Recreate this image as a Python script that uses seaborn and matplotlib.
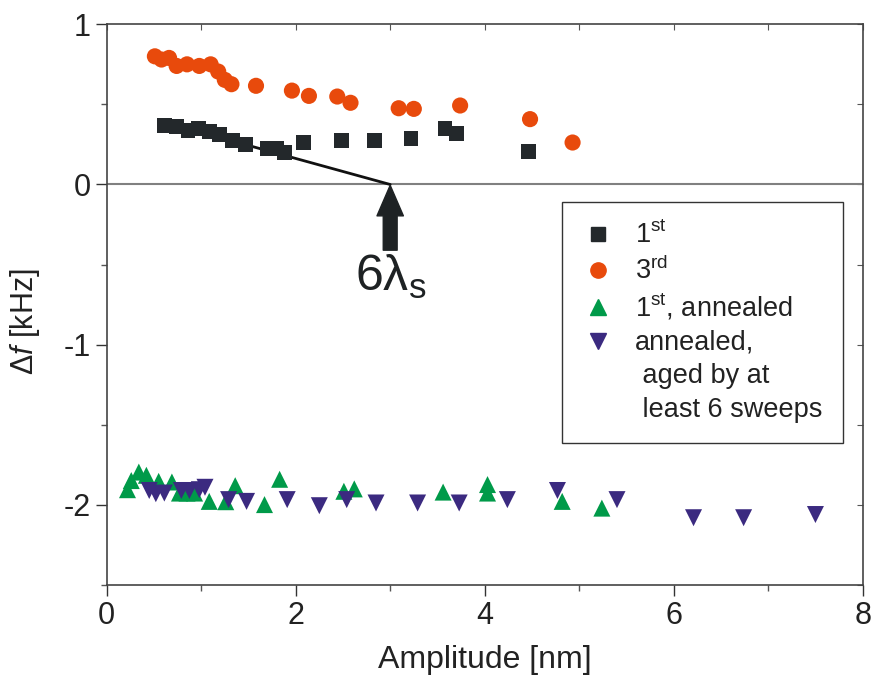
import numpy as np
import pandas as pd
import matplotlib
matplotlib.use("Agg")
import matplotlib.pyplot as plt
import seaborn as sns
from matplotlib.lines import Line2D
from matplotlib.ticker import MultipleLocator

sns.set_style("ticks")
plt.rcParams['font.family'] = ['Liberation Sans', 'DejaVu Sans']
plt.rcParams['mathtext.fontset'] = 'custom'
plt.rcParams['mathtext.rm'] = 'Liberation Sans'
plt.rcParams['mathtext.it'] = 'Liberation Sans:italic'
plt.rcParams['axes.unicode_minus'] = False

# 1st sweep (squares)
x_first = [0.61, 0.74, 0.86, 0.97, 1.085, 1.19, 1.33, 1.47, 1.70, 1.80, 1.88,
           2.08, 2.48, 2.83, 3.22, 3.58, 3.70, 4.46]
y_first = [0.368, 0.362, 0.335, 0.347, 0.331, 0.31, 0.274, 0.25, 0.227, 0.227, 0.20,
           0.264, 0.272, 0.272, 0.285, 0.347, 0.32, 0.206]

# 3rd sweep (circles)
x_third = [0.51, 0.58, 0.66, 0.74, 0.85, 0.98, 1.10, 1.18, 1.25, 1.32, 1.58,
           1.96, 2.14, 2.44, 2.58, 3.09, 3.25, 3.74, 4.48, 4.93]
y_third = [0.80, 0.78, 0.79, 0.74, 0.75, 0.74, 0.75, 0.705, 0.653, 0.626, 0.616,
           0.586, 0.553, 0.549, 0.51, 0.476, 0.472, 0.493, 0.408, 0.262]

# 1st, annealed (up triangles)
x_ann1 = [0.22, 0.26, 0.34, 0.42, 0.55, 0.69, 0.77, 0.85, 0.93, 1.085, 1.26, 1.36,
          1.67, 1.83, 2.51, 2.62, 3.56, 4.03, 4.03, 4.82, 5.24]
y_ann1 = [-1.905, -1.848, -1.795, -1.815, -1.853, -1.857, -1.926, -1.926, -1.926,
          -1.978, -1.98, -1.88, -1.998, -1.84, -1.915, -1.90, -1.92, -1.873, -1.926,
          -1.978, -2.02]

# annealed, aged (down triangles)
x_aged = [0.45, 0.52, 0.61, 0.79, 0.875, 0.98, 1.04, 1.29, 1.48, 1.91, 2.25, 2.54,
          2.85, 3.29, 3.73, 4.24, 4.77, 5.40, 6.21, 6.74, 7.50]
y_aged = [-1.91, -1.93, -1.926, -1.91, -1.91, -1.905, -1.89, -1.967, -1.978, -1.967,
          -2.005, -1.967, -1.988, -1.988, -1.988, -1.967, -1.91, -1.967, -2.08, -2.08,
          -2.06]

# guide line to 6 lambda_s
line_x = [0.6, 3.0]
line_y = [0.39, 0.0]

c_first = '#23282b'
c_third = '#e84a0c'
c_ann1 = '#009a49'
c_aged = '#3b2a80'

fig = plt.figure(figsize=(8.76, 6.86), dpi=100)
ax = fig.add_axes([0.1218, 0.1472, 0.8630, 0.8174])

ax.axhline(0, color='#808080', lw=1.5, zorder=1)
ax.plot(line_x, line_y, color='#111111', lw=2, zorder=2)

sns.scatterplot(x=x_first, y=y_first, marker='s', s=115, color=c_first,
                edgecolor='none', ax=ax, zorder=3)
sns.scatterplot(x=x_third, y=y_third, marker='o', s=135, color=c_third,
                edgecolor='none', ax=ax, zorder=3)
sns.scatterplot(x=x_ann1, y=y_ann1, marker='^', s=150, color=c_ann1,
                edgecolor='none', ax=ax, zorder=3)
sns.scatterplot(x=x_aged, y=y_aged, marker='v', s=150, color=c_aged,
                edgecolor='none', ax=ax, zorder=4)

ax.annotate('', xy=(3.0, -0.005), xytext=(3.0, -0.41),
            arrowprops=dict(arrowstyle='simple,head_length=1.1,head_width=0.95,tail_width=0.5',
                            mutation_scale=20, color='#1e2224', shrinkA=0, shrinkB=0))
ax.text(3.01, -0.575, '6λ$_\\mathrm{s}$', fontsize=36, ha='center', va='center',
        color='#1e2224')

ax.set_xlim(0, 8)
ax.set_ylim(-2.5, 1)
ax.xaxis.set_major_locator(MultipleLocator(2))
ax.xaxis.set_minor_locator(MultipleLocator(1))
ax.yaxis.set_major_locator(MultipleLocator(1))
ax.yaxis.set_minor_locator(MultipleLocator(0.5))
ax.tick_params(which='major', direction='out', length=8, width=1, labelsize=22,
               colors='#333333', labelcolor='#222222')
ax.tick_params(which='minor', direction='out', length=4, width=1, colors='#555555')

for side in ['top', 'right', 'left', 'bottom']:
    ax.spines[side].set_visible(True)
    ax.spines[side].set_color('#444444')
    ax.spines[side].set_linewidth(1.2)

sec_y = ax.secondary_yaxis('right')
sec_y.tick_params(direction='in', length=4, labelright=False, colors='#555555')
sec_y.yaxis.set_major_locator(MultipleLocator(0.5))
sec_y.spines['right'].set_visible(False)
sec_x = ax.secondary_xaxis('top')
sec_x.tick_params(direction='in', length=4, labeltop=False, colors='#555555')
sec_x.xaxis.set_major_locator(MultipleLocator(1))
sec_x.spines['top'].set_visible(False)

ax.set_xlabel('Amplitude [nm]', fontsize=23, color='#222222', labelpad=10)
ax.set_ylabel('Δ$f$ [kHz]', fontsize=22, color='#222222')
ax.yaxis.set_label_coords(-0.085, 0.47)

handles = [
    Line2D([], [], marker='s', color=c_first, ls='none', markersize=10),
    Line2D([], [], marker='o', color=c_third, ls='none', markersize=11),
    Line2D([], [], marker='^', color=c_ann1, ls='none', markersize=12),
    Line2D([], [], marker='v', color=c_aged, ls='none', markersize=12),
    Line2D([], [], ls='none'),
    Line2D([], [], ls='none'),
]
labels = ['1$^{\\mathrm{st}}$', '3$^{\\mathrm{rd}}$', '1$^{\\mathrm{st}}$, annealed',
          'annealed,', ' aged by at', ' least 6 sweeps']
leg = ax.legend(handles, labels, loc='upper left', bbox_to_anchor=(0.602, 0.683),
                fontsize=19.5, frameon=True, fancybox=False, framealpha=1,
                edgecolor='#333333', handlelength=1.2, handletextpad=0.75,
                labelspacing=0.27, borderpad=0.75, borderaxespad=0)
leg.get_frame().set_linewidth(1.0)
for t in leg.get_texts():
    t.set_color('#222222')

fig.savefig('out.png', dpi=100)
